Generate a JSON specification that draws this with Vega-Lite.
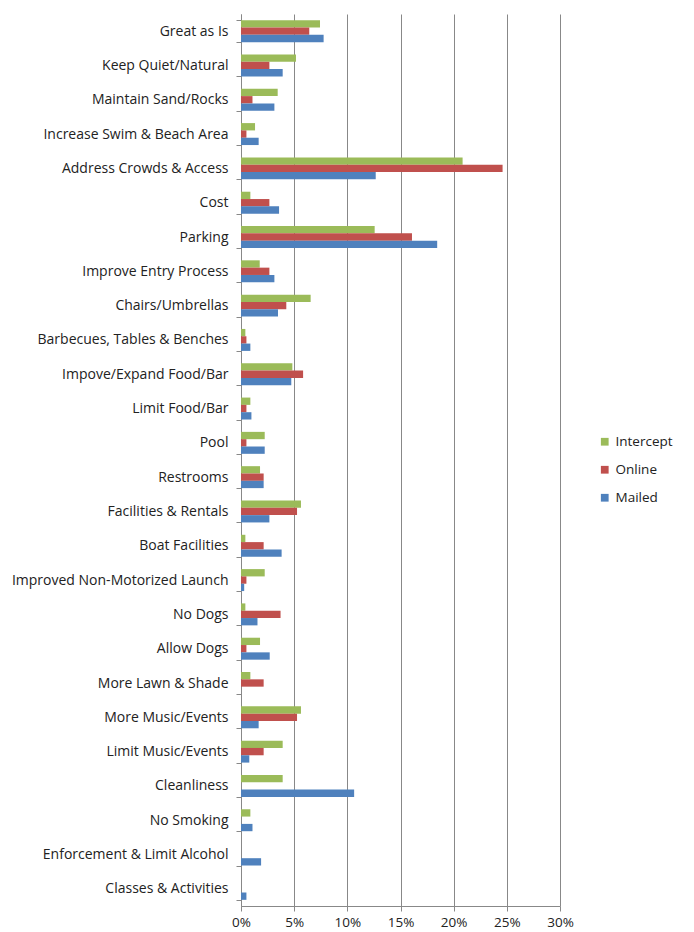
{
  "$schema": "https://vega.github.io/schema/vega-lite/v6.json",
  "width": 319,
  "height": 892,
  "autosize": {"type": "none"},
  "padding": {"left": 241, "top": 14, "right": 134, "bottom": 26},
  "background": "white",
  "config": {"view": {"stroke": null}, "font": "Open Sans"},
  "data": {
    "values": [
      {"cat": "Great as Is", "src": "Intercept", "v": 0.0743},
      {"cat": "Great as Is", "src": "Online", "v": 0.0642},
      {"cat": "Great as Is", "src": "Mailed", "v": 0.0777},
      {"cat": "Keep Quiet/Natural", "src": "Intercept", "v": 0.0517},
      {"cat": "Keep Quiet/Natural", "src": "Online", "v": 0.0267},
      {"cat": "Keep Quiet/Natural", "src": "Mailed", "v": 0.0392},
      {"cat": "Maintain Sand/Rocks", "src": "Intercept", "v": 0.0345},
      {"cat": "Maintain Sand/Rocks", "src": "Online", "v": 0.0108},
      {"cat": "Maintain Sand/Rocks", "src": "Mailed", "v": 0.0314},
      {"cat": "Increase Swim & Beach Area", "src": "Intercept", "v": 0.0132},
      {"cat": "Increase Swim & Beach Area", "src": "Online", "v": 0.0051},
      {"cat": "Increase Swim & Beach Area", "src": "Mailed", "v": 0.0166},
      {"cat": "Address Crowds & Access", "src": "Intercept", "v": 0.2084},
      {"cat": "Address Crowds & Access", "src": "Online", "v": 0.246},
      {"cat": "Address Crowds & Access", "src": "Mailed", "v": 0.1267},
      {"cat": "Cost", "src": "Intercept", "v": 0.0088},
      {"cat": "Cost", "src": "Online", "v": 0.0267},
      {"cat": "Cost", "src": "Mailed", "v": 0.0358},
      {"cat": "Parking", "src": "Intercept", "v": 0.1257},
      {"cat": "Parking", "src": "Online", "v": 0.1608},
      {"cat": "Parking", "src": "Mailed", "v": 0.1845},
      {"cat": "Improve Entry Process", "src": "Intercept", "v": 0.0176},
      {"cat": "Improve Entry Process", "src": "Online", "v": 0.0267},
      {"cat": "Improve Entry Process", "src": "Mailed", "v": 0.0314},
      {"cat": "Chairs/Umbrellas", "src": "Intercept", "v": 0.0655},
      {"cat": "Chairs/Umbrellas", "src": "Online", "v": 0.0426},
      {"cat": "Chairs/Umbrellas", "src": "Mailed", "v": 0.0348},
      {"cat": "Barbecues, Tables & Benches", "src": "Intercept", "v": 0.0041},
      {"cat": "Barbecues, Tables & Benches", "src": "Online", "v": 0.0051},
      {"cat": "Barbecues, Tables & Benches", "src": "Mailed", "v": 0.0088},
      {"cat": "Impove/Expand Food/Bar", "src": "Intercept", "v": 0.0483},
      {"cat": "Impove/Expand Food/Bar", "src": "Online", "v": 0.0584},
      {"cat": "Impove/Expand Food/Bar", "src": "Mailed", "v": 0.0473},
      {"cat": "Limit Food/Bar", "src": "Intercept", "v": 0.0088},
      {"cat": "Limit Food/Bar", "src": "Online", "v": 0.0051},
      {"cat": "Limit Food/Bar", "src": "Mailed", "v": 0.0098},
      {"cat": "Pool", "src": "Intercept", "v": 0.0223},
      {"cat": "Pool", "src": "Online", "v": 0.0051},
      {"cat": "Pool", "src": "Mailed", "v": 0.0223},
      {"cat": "Restrooms", "src": "Intercept", "v": 0.0179},
      {"cat": "Restrooms", "src": "Online", "v": 0.0213},
      {"cat": "Restrooms", "src": "Mailed", "v": 0.0213},
      {"cat": "Facilities & Rentals", "src": "Intercept", "v": 0.0564},
      {"cat": "Facilities & Rentals", "src": "Online", "v": 0.0527},
      {"cat": "Facilities & Rentals", "src": "Mailed", "v": 0.0267},
      {"cat": "Boat Facilities", "src": "Intercept", "v": 0.0041},
      {"cat": "Boat Facilities", "src": "Online", "v": 0.0213},
      {"cat": "Boat Facilities", "src": "Mailed", "v": 0.0382},
      {"cat": "Improved Non-Motorized Launch", "src": "Intercept", "v": 0.0223},
      {"cat": "Improved Non-Motorized Launch", "src": "Online", "v": 0.0051},
      {"cat": "Improved Non-Motorized Launch", "src": "Mailed", "v": 0.003},
      {"cat": "No Dogs", "src": "Intercept", "v": 0.0041},
      {"cat": "No Dogs", "src": "Online", "v": 0.0372},
      {"cat": "No Dogs", "src": "Mailed", "v": 0.0155},
      {"cat": "Allow Dogs", "src": "Intercept", "v": 0.0179},
      {"cat": "Allow Dogs", "src": "Online", "v": 0.0051},
      {"cat": "Allow Dogs", "src": "Mailed", "v": 0.027},
      {"cat": "More Lawn & Shade", "src": "Intercept", "v": 0.0088},
      {"cat": "More Lawn & Shade", "src": "Online", "v": 0.0213},
      {"cat": "More Lawn & Shade", "src": "Mailed", "v": 0},
      {"cat": "More Music/Events", "src": "Intercept", "v": 0.0564},
      {"cat": "More Music/Events", "src": "Online", "v": 0.0527},
      {"cat": "More Music/Events", "src": "Mailed", "v": 0.0166},
      {"cat": "Limit Music/Events", "src": "Intercept", "v": 0.0392},
      {"cat": "Limit Music/Events", "src": "Online", "v": 0.0213},
      {"cat": "Limit Music/Events", "src": "Mailed", "v": 0.0078},
      {"cat": "Cleanliness", "src": "Intercept", "v": 0.0392},
      {"cat": "Cleanliness", "src": "Online", "v": 0},
      {"cat": "Cleanliness", "src": "Mailed", "v": 0.1064},
      {"cat": "No Smoking", "src": "Intercept", "v": 0.0088},
      {"cat": "No Smoking", "src": "Online", "v": 0},
      {"cat": "No Smoking", "src": "Mailed", "v": 0.0108},
      {"cat": "Enforcement & Limit Alcohol", "src": "Intercept", "v": 0},
      {"cat": "Enforcement & Limit Alcohol", "src": "Online", "v": 0},
      {"cat": "Enforcement & Limit Alcohol", "src": "Mailed", "v": 0.0189},
      {"cat": "Classes & Activities", "src": "Intercept", "v": 0},
      {"cat": "Classes & Activities", "src": "Online", "v": 0},
      {"cat": "Classes & Activities", "src": "Mailed", "v": 0.0051}
    ]
  },
  "mark": {"type": "bar"},
  "encoding": {
    "y": {
      "field": "cat",
      "type": "nominal",
      "sort": null,
      "title": null,
      "scale": {"paddingInner": 0.36, "paddingOuter": 0.18},
      "axis": {
        "tickBand": "extent",
        "labelFontSize": 14,
        "labelColor": "#222",
        "domainColor": "#888",
        "tickColor": "#888",
        "tickSize": 5,
        "labelPadding": 8,
        "labelLimit": 300
      }
    },
    "yOffset": {
      "field": "src",
      "sort": ["Intercept", "Online", "Mailed"],
      "scale": {"paddingInner": 0, "paddingOuter": 0}
    },
    "x": {
      "field": "v",
      "type": "quantitative",
      "scale": {"domain": [0, 0.3], "nice": false},
      "title": null,
      "axis": {
        "format": ".0%",
        "values": [0, 0.05, 0.1, 0.15, 0.2, 0.25, 0.3],
        "grid": true,
        "gridColor": "#888",
        "domainColor": "#888",
        "ticks": true,
        "tickColor": "#888",
        "tickSize": 5,
        "labelFlush": false,
        "labelFontSize": 13.5,
        "labelColor": "#222",
        "labelPadding": 4
      }
    },
    "color": {
      "field": "src",
      "type": "nominal",
      "scale": {"domain": ["Intercept", "Online", "Mailed"], "range": ["#9BBB59", "#C0504D", "#4F81BD"]},
      "legend": {
        "title": null,
        "orient": "none",
        "legendX": 357,
        "legendY": 421,
        "padding": 0,
        "symbolType": "square",
        "symbolSize": 60,
        "symbolStrokeWidth": 0,
        "labelFontSize": 13.5,
        "labelColor": "#222",
        "labelOffset": 4,
        "rowPadding": 13
      }
    }
  }
}
